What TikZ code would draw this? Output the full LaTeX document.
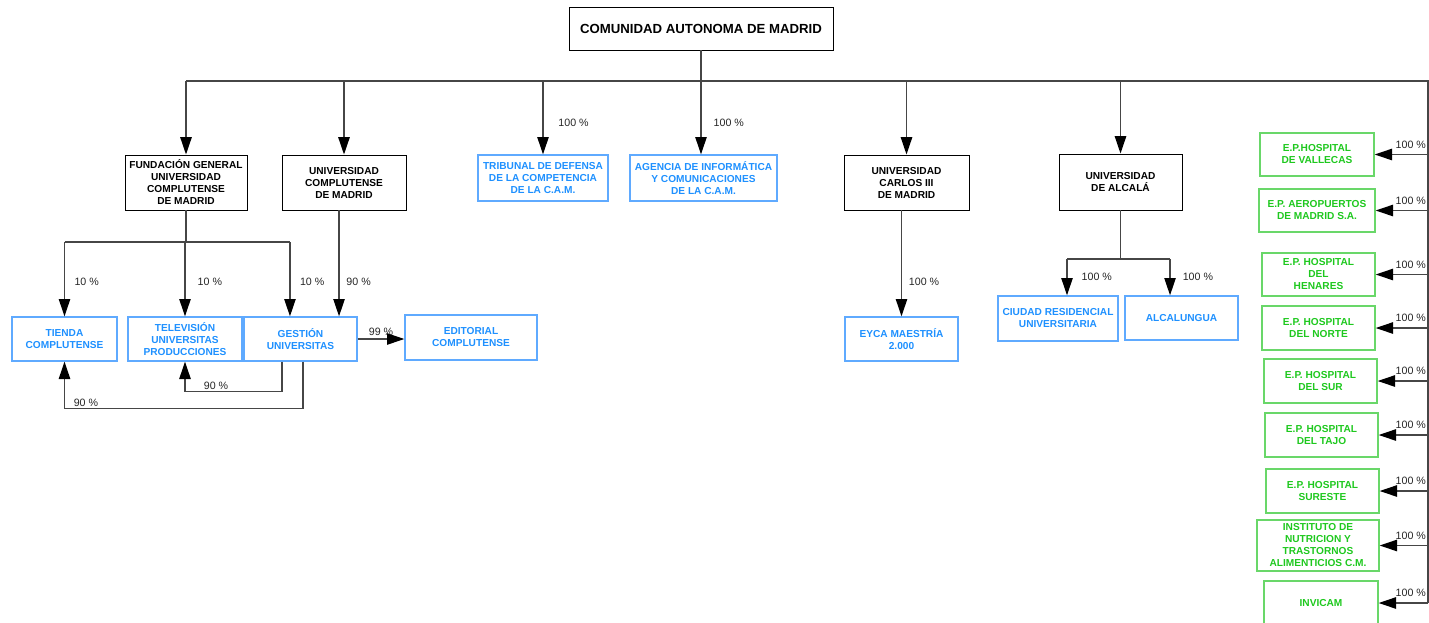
\documentclass[tikz,border=0pt]{standalone}
\usepackage{fontspec}
\setmainfont{Liberation Sans}
\usetikzlibrary{arrows.meta}

\definecolor{camblue}{RGB}{30,144,255}
\definecolor{camblueline}{RGB}{95,170,255}
\definecolor{epgreen}{RGB}{30,200,30}
\definecolor{epgreenline}{RGB}{105,215,105}
\definecolor{linkgray}{RGB}{70,70,70}

\begin{document}
\begin{tikzpicture}[
        x=0.75pt, y=-0.75pt,
        boxfont/.style={font=\fontsize{7.6}{9}\selectfont\bfseries},
        ownernode/.style={draw=black, line width=0.7pt, align=center, inner sep=1pt, boxfont},
        bluenode/.style={draw=camblueline, line width=1pt, text=camblue, align=center, inner sep=1pt, boxfont},
        greennode/.style={draw=epgreenline, line width=1pt, text=epgreen, align=center, inner sep=1pt, boxfont},
        link/.style={color=linkgray, line width=1.1pt},
        arrow/.style={link, -{Triangle[length=13pt, width=8.5pt, color=black, fill=black]}},
        pct/.style={font=\fontsize{8}{9.6}\selectfont, text=black!85, inner sep=1pt},
    ]
    \useasboundingbox (0,0) rectangle (1429,622);

    %Nodes: top
    \node[ownernode, font=\fontsize{9.9}{11}\selectfont\bfseries, minimum width=198pt, minimum height=32.25pt] (title) at (701,28.5) {COMUNIDAD AUTONOMA DE MADRID};

    %Nodes: first level
    \node[ownernode, minimum width=91.5pt, minimum height=41.25pt]  (fund)     at (186,182.5)  {FUNDACIÓN GENERAL\\UNIVERSIDAD\\COMPLUTENSE\\DE MADRID};
    \node[ownernode, minimum width=93pt, minimum height=41.25pt]    (ucm)      at (344,182.5)  {UNIVERSIDAD\\COMPLUTENSE\\DE MADRID};
    \node[bluenode,  minimum width=97.5pt, minimum height=34.5pt]   (tribunal) at (543,178)    {TRIBUNAL DE DEFENSA\\DE LA COMPETENCIA\\DE LA C.A.M.};
    \node[bluenode,  minimum width=110.25pt, minimum height=34.5pt] (agencia)  at (703.5,178)  {AGENCIA DE INFORMÁTICA\\Y COMUNICACIONES\\DE LA C.A.M.};
    \node[ownernode, minimum width=93.75pt, minimum height=41.25pt] (carlos)   at (906.5,182.5) {UNIVERSIDAD\\CARLOS III\\DE MADRID};
    \node[ownernode, minimum width=92.25pt, minimum height=42pt]    (alcala)   at (1120.5,182) {UNIVERSIDAD\\DE ALCALÁ};

    %Nodes: second level
    \node[bluenode, minimum width=78.75pt, minimum height=33pt]    (tienda)     at (64.5,339)   {TIENDA\\COMPLUTENSE};
    \node[bluenode, minimum width=85.5pt, minimum height=33pt]     (tele)       at (185,339)    {TELEVISIÓN\\UNIVERSITAS\\PRODUCCIONES};
    \node[bluenode, minimum width=84.75pt, minimum height=33pt]    (gestion)    at (300.5,339)  {GESTIÓN\\UNIVERSITAS};
    \node[bluenode, minimum width=99pt, minimum height=33.75pt]    (editorial)  at (471,337.5)  {EDITORIAL\\COMPLUTENSE};
    \node[bluenode, minimum width=84.75pt, minimum height=33pt]    (eyca)       at (901.5,339)  {EYCA MAESTRÍA\\2.000};
    \node[bluenode, minimum width=90pt, minimum height=33.75pt]    (ciudad)     at (1058,318.5) {CIUDAD RESIDENCIAL\\UNIVERSITARIA};
    \node[bluenode, minimum width=84.75pt, minimum height=33pt]    (alcalungua) at (1181.5,318) {ALCALUNGUA};

    %Nodes: public companies
    \node[greennode, minimum width=85.5pt, minimum height=32.25pt]  (vallecas)    at (1317,154.5)   {E.P.HOSPITAL\\DE VALLECAS};
    \node[greennode, minimum width=87pt, minimum height=32.25pt]    (aeropuertos) at (1317,210.5)   {E.P. AEROPUERTOS\\DE MADRID S.A.};
    \node[greennode, minimum width=84.75pt, minimum height=32.25pt] (henares)     at (1318.5,274.5) {E.P. HOSPITAL\\DEL\\HENARES};
    \node[greennode, minimum width=84.75pt, minimum height=33pt]    (norte)       at (1318.5,328)   {E.P. HOSPITAL\\DEL NORTE};
    \node[greennode, minimum width=84.75pt, minimum height=33pt]    (sur)         at (1320.5,381)   {E.P. HOSPITAL\\DEL SUR};
    \node[greennode, minimum width=84.75pt, minimum height=33pt]    (tajo)        at (1321.5,435)   {E.P. HOSPITAL\\DEL TAJO};
    \node[greennode, minimum width=84.75pt, minimum height=33pt]    (sureste)     at (1322.5,491)   {E.P. HOSPITAL\\SURESTE};
    \node[greennode, minimum width=91.5pt, minimum height=38.25pt]  (instituto)   at (1318,545.5)   {INSTITUTO DE\\NUTRICION Y\\TRASTORNOS\\ALIMENTICIOS C.M.};
    \node[greennode, minimum width=85.5pt, minimum height=33pt]     (invicam)     at (1321,603)     {INVICAM};

    %Coordinates: bus and split points
    \coordinate (bus_left)  at (186,81);
    \coordinate (bus_right) at (1428,81);
    \coordinate (bus_end)   at (bus_right |- invicam.east);
    \coordinate (fund_split)   at (186,242);
    \coordinate (alcala_split) at (1120.5,259);
    \coordinate (gestion_in_fund)    at ([xshift=-7.9pt]gestion.north);
    \coordinate (gestion_in_ucm)     at ([xshift=28.9pt]gestion.north);
    \coordinate (gestion_out_tele)   at ([xshift=-13.9pt]gestion.south);
    \coordinate (gestion_out_tienda) at ([xshift=1.9pt]gestion.south);
    \coordinate (ciudad_in)     at ([xshift=6.75pt]ciudad.north);
    \coordinate (alcalungua_in) at ([xshift=-8.6pt]alcalungua.north);

    %Lines: bus
    \draw[link] (title.south) -- (title.south |- bus_left);
    \draw[link] (bus_left) -- (bus_right) -- (bus_end);

    %Arrows: bus to first level
    \path[arrow] (fund.north |- bus_left)   edge (fund.north);
    \path[arrow] (ucm.north |- bus_left)    edge (ucm.north);
    \path[arrow] (tribunal.north |- bus_left) edge node[pct, pos=0.57, right=10pt] {100 \%} (tribunal.north);
    \path[arrow] (title.south |- bus_left)  edge node[pct, pos=0.57, right=8pt] {100 \%} (title.south |- agencia.north);
    \path[arrow] (carlos.north |- bus_left) edge (carlos.north);
    \path[arrow] (alcala.north |- bus_left) edge (alcala.north);

    %Arrows: fundacion and universidad complutense
    \draw[link] (fund.south) -- (fund_split);
    \draw[link] (tienda.north |- fund_split) -- (gestion_in_fund |- fund_split);
    \path[arrow] (tienda.north |- fund_split)    edge node[pct, pos=0.53, right=6pt] {10 \%} (tienda.north);
    \path[arrow] (tele.north |- fund_split)      edge node[pct, pos=0.53, right=8pt] {10 \%} (tele.north);
    \path[arrow] (gestion_in_fund |- fund_split) edge node[pct, pos=0.53, right=6pt] {10 \%} (gestion_in_fund);
    \path[arrow] (gestion_in_ucm |- ucm.south)   edge node[pct, pos=0.67, right=4pt] {90 \%} (gestion_in_ucm);

    %Arrows: gestion universitas
    \path[arrow] (gestion.east) edge node[pct, above=1pt] {99 \%} (gestion.east -| editorial.west);
    \draw[arrow] (gestion_out_tele) -- ++(0,30) -| node[pct, pos=0.34, above] {90 \%} (tele.south);
    \draw[arrow] (gestion_out_tienda) -- ++(0,47) -| node[pct, pos=0.455, above] {90 \%} (tienda.south);

    %Arrows: carlos III and alcala
    \path[arrow] (eyca.north |- carlos.south) edge node[pct, pos=0.67, right=4pt] {100 \%} (eyca.north);
    \draw[link] (alcala.south) -- (alcala_split);
    \draw[link] (ciudad_in |- alcala_split) -- (alcalungua_in |- alcala_split);
    \path[arrow] (ciudad_in |- alcala_split)     edge node[pct, pos=0.49, right=9.5pt] {100 \%} (ciudad_in);
    \path[arrow] (alcalungua_in |- alcala_split) edge node[pct, pos=0.49, right=8pt] {100 \%} (alcalungua_in);

    %Arrows: public companies
    \path[arrow] (vallecas.east -| bus_right)    edge node[pct, pos=0, above left, yshift=3pt] {100 \%} (vallecas.east);
    \path[arrow] (aeropuertos.east -| bus_right) edge node[pct, pos=0, above left, yshift=3pt] {100 \%} (aeropuertos.east);
    \path[arrow] (henares.east -| bus_right)     edge node[pct, pos=0, above left, yshift=3pt] {100 \%} (henares.east);
    \path[arrow] (norte.east -| bus_right)       edge node[pct, pos=0, above left, yshift=3pt] {100 \%} (norte.east);
    \path[arrow] (sur.east -| bus_right)         edge node[pct, pos=0, above left, yshift=3pt] {100 \%} (sur.east);
    \path[arrow] (tajo.east -| bus_right)        edge node[pct, pos=0, above left, yshift=3pt] {100 \%} (tajo.east);
    \path[arrow] (sureste.east -| bus_right)     edge node[pct, pos=0, above left, yshift=3pt] {100 \%} (sureste.east);
    \path[arrow] (instituto.east -| bus_right)   edge node[pct, pos=0, above left, yshift=3pt] {100 \%} (instituto.east);
    \path[arrow] (invicam.east -| bus_right)     edge node[pct, pos=0, above left, yshift=3pt] {100 \%} (invicam.east);
\end{tikzpicture}
\end{document}
